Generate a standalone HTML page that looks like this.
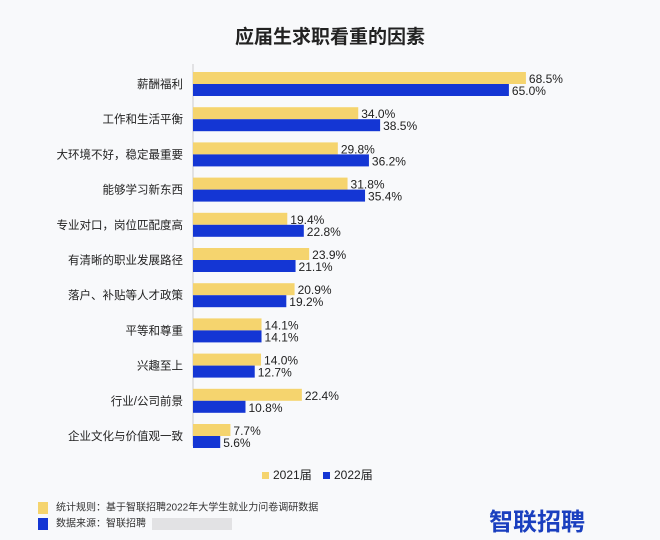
<!DOCTYPE html>
<html><head><meta charset="utf-8"><style>
body{margin:0;width:660px;height:540px;background:#f8f9fb;font-family:"Liberation Sans","Noto Sans CJK SC",sans-serif;overflow:hidden;position:relative}
.t{position:absolute}
</style></head><body>
<div class="t" style="left:0;width:660px;top:22px;text-align:center;font-size:19px;font-weight:bold;color:#222">应届生求职看重的因素</div>
<svg id="c" width="660" height="500" style="position:absolute;left:0;top:0"></svg>
<div class="t" style="left:262px;top:466px;font-size:12px;color:#222"><span style="display:inline-block;width:7px;height:7px;background:#f5d46e;margin-right:4px"></span>2021届</div>
<div class="t" style="left:323px;top:466px;font-size:12px;color:#222"><span style="display:inline-block;width:7px;height:7px;background:#1436d4;margin-right:4px"></span>2022届</div>
<div class="t" style="left:38px;top:502px;font-size:10px;color:#333;line-height:12px"><span style="display:inline-block;width:10px;height:12px;background:#f5d46e;vertical-align:middle;margin-right:8px"></span>统计规则：基于智联招聘2022年大学生就业力问卷调研数据</div>
<div class="t" style="left:38px;top:518px;font-size:10px;color:#333;line-height:12px"><span style="display:inline-block;width:10px;height:12px;background:#1436d4;vertical-align:middle;margin-right:8px"></span>数据来源：智联招聘<span style="display:inline-block;width:80px;height:12px;background:#e2e2e4;vertical-align:middle;margin-left:6px"></span></div>
<div class="t" style="left:489px;top:502px;font-size:24px;font-weight:bold;color:#1a3fbf">智联招聘</div>
<script>
const categories=["薪酬福利","工作和生活平衡","大环境不好，稳定最重要","能够学习新东西","专业对口，岗位匹配度高","有清晰的职业发展路径","落户、补贴等人才政策","平等和尊重","兴趣至上","行业/公司前景","企业文化与价值观一致"];
const v2021=[68.5,34.0,29.8,31.8,19.4,23.9,20.9,14.1,14.0,22.4,7.7];
const v2022=[65.0,38.5,36.2,35.4,22.8,21.1,19.2,14.1,12.7,10.8,5.6];
const svg=document.getElementById('c');const NS='http://www.w3.org/2000/svg';
const x0=193,k=4.86,y0=72,step=35.2,bh=12;
const x=v=>x0+v*k, y=i=>y0+i*step;
function mk(t,a){const e=document.createElementNS(NS,t);for(const q in a)e.setAttribute(q,a[q]);svg.appendChild(e);return e;}
const ax=mk('line',{x1:x0,x2:x0,y1:64,y2:446,stroke:'#ccc'});


categories.forEach((c,i)=>{
 const l=mk('text',{x:x0-10,y:y(i)+bh+4,'text-anchor':'end','font-size':'11.5',fill:'#222'});l.textContent=c;
 
 
 const a=mk('rect',{x:x0,y:y(i),width:x(v2021[i])-x0,height:bh,fill:'#f5d46e'});
 
 
 const b=mk('rect',{x:x0,y:y(i)+bh,width:x(v2022[i])-x0,height:bh,fill:'#1436d4'});
 
 
 const ta=mk('text',{x:x(v2021[i])+3,y:y(i)+11,'font-size':'12',fill:'#222'});ta.textContent=v2021[i].toFixed(1)+'%';
 
 
 const tb=mk('text',{x:x(v2022[i])+3,y:y(i)+23,'font-size':'12',fill:'#222'});tb.textContent=v2022[i].toFixed(1)+'%';
 
 
});
</script>
</body></html>
